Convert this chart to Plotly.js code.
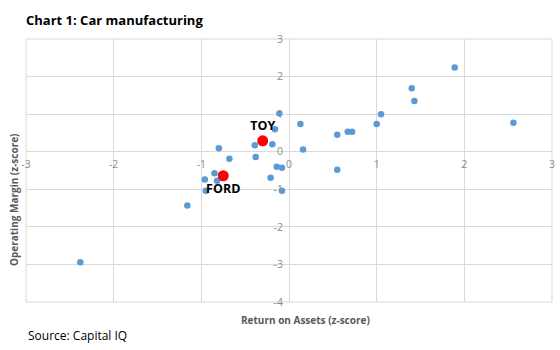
<!DOCTYPE html>
<html>
<head>
<meta charset="utf-8">
<script src="https://cdn.plot.ly/plotly-3.0.1.min.js"></script>
<style>html,body{margin:0;padding:0;background:#fff;}#chart{width:560px;height:350px;}</style>
</head>
<body>
<div id="chart"></div>
<script>
// Peer companies: Return on Assets (z-score) vs Operating Margin (z-score)
const peerROA = [-0.11, 0.13, -0.16, -0.39, -0.19, 0.16, -0.80, -0.68, -0.38, -0.14, -0.08, -0.85, -0.82, -0.96, -0.21, -0.95, -0.08, -1.16, 0.55, 0.67, 0.72, 1.00, 1.05, 1.40, 1.43, 0.55, 1.89, 2.56, -2.38];
const peerOM  = [1.02, 0.74, 0.60, 0.17, 0.20, 0.06, 0.09, -0.19, -0.14, -0.40, -0.43, -0.57, -0.77, -0.74, -0.69, -1.04, -1.04, -1.43, 0.45, 0.53, 0.53, 0.74, 1.00, 1.69, 1.35, -0.48, 2.24, 0.77, -2.94];

const highlightNames = ["TOY", "FORD"];
const highlightROA = [-0.30, -0.75];
const highlightOM  = [0.29, -0.64];

const xTicks = [-3, -2, -1, 0, 1, 2, 3];
const yTicks = [-4, -3, -2, -1, 0, 1, 2, 3];

const traces = [
  {
    type: 'scatter', mode: 'markers',
    x: peerROA, y: peerOM,
    marker: {color: '#5B9BD5', size: 6.5},
    hoverinfo: 'x+y', showlegend: false
  },
  {
    type: 'scatter', mode: 'markers+text',
    x: highlightROA, y: highlightOM,
    text: highlightNames,
    textposition: ['top center', 'bottom center'],
    textfont: {family: 'Open Sans, sans-serif', size: 12.5, color: '#000', weight: 'bold'},
    marker: {color: '#FF0000', size: 11},
    showlegend: false
  }
];

const gridColor = '#d9d9d9';
const tickFont = {family: 'Open Sans, sans-serif', size: 10.5, color: '#8c8c8c'};

const layout = {
  width: 560, height: 350,
  margin: {l: 26, r: 8, t: 39, b: 48},
  paper_bgcolor: '#fff', plot_bgcolor: '#fff',
  showlegend: false,
  title: {
    text: '<b>Chart 1: Car manufacturing</b>',
    font: {family: 'Open Sans, sans-serif', size: 13, color: '#000'},
    x: 26/560, xanchor: 'left', xref: 'container',
    y: 1 - 20/350, yanchor: 'middle', yref: 'container'
  },
  xaxis: {
    range: [-3, 3], tickvals: xTicks, ticktext: xTicks.map(String),
    anchor: 'free', position: 4/7, ticklabelstandoff: 5,
    showgrid: true, gridcolor: gridColor, gridwidth: 1,
    zeroline: true, zerolinecolor: gridColor, zerolinewidth: 1,
    showline: false, ticks: '', tickfont: tickFont, fixedrange: true
  },
  yaxis: {
    range: [-4, 3], tickvals: yTicks, ticktext: yTicks.map(String),
    anchor: 'free', position: 0.5, ticklabelstandoff: 6,
    showgrid: true, gridcolor: gridColor, gridwidth: 1,
    zeroline: true, zerolinecolor: gridColor, zerolinewidth: 1,
    showline: false, ticks: '', tickfont: tickFont, fixedrange: true
  },
  shapes: [
    {type: 'rect', xref: 'paper', yref: 'paper', x0: 0, x1: 1, y0: 0, y1: 1,
     line: {color: gridColor, width: 1}, layer: 'below'}
  ],
  annotations: [
    {text: '<b>Return on Assets (z-score)</b>', xref: 'paper', yref: 'paper',
     x: (305.5 - 26)/526, y: -(320 - 302)/263, xanchor: 'center', yanchor: 'middle',
     showarrow: false, font: {family: 'Open Sans, sans-serif', size: 10, color: '#595959'}},
    {text: '<b>Operating Margin (z-score)</b>', xref: 'paper', yref: 'paper',
     x: -(26 - 14)/526, y: (302 - 200)/263, xanchor: 'center', yanchor: 'middle', textangle: -90,
     showarrow: false, font: {family: 'Open Sans, sans-serif', size: 10, color: '#595959'}},
    {text: 'Source: Capital IQ', xref: 'paper', yref: 'paper',
     x: 0, y: -(335 - 302)/263, xanchor: 'left', yanchor: 'middle',
     showarrow: false, font: {family: 'Open Sans, sans-serif', size: 12, color: '#000'}}
  ]
};

Plotly.newPlot('chart', traces, layout, {displayModeBar: false, staticPlot: true});
</script>
</body>
</html>
